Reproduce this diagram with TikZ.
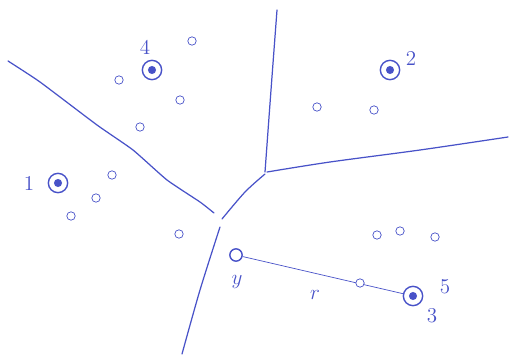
\documentclass[tikz,border=0pt]{standalone}
\usepackage{tikz}
\definecolor{ink}{RGB}{72,82,200}
\tikzset{
  site/.style={circle,draw=ink,thick,minimum size=11pt,inner sep=0pt,
    path picture={\fill[ink] (path picture bounding box.center) circle (2.3pt);}},
  pt/.style={circle,draw=ink,minimum size=4.8pt,inner sep=0pt},
  lab/.style={text=ink,font=\large},
  edge/.style={draw=ink,line width=0.7pt,line cap=round}
}
\begin{document}
\begin{tikzpicture}[x=0.02cm,y=-0.02cm]
    \useasboundingbox (0,0) rectangle (509,354);
    % cell borders
    \draw[edge] plot[smooth,tension=0.3] coordinates {(8,61) (40,82) (97,125) (133,150) (167,180) (200,202) (214,213)};
    \draw[edge] plot[smooth] coordinates {(277,10) (271,90) (265,172)};
    \draw[edge] plot[smooth] coordinates {(267,172) (330,162) (420,150) (508,137)};
    \draw[edge] plot[smooth] coordinates {(265,174) (245,192) (222,219)};
    \draw[edge] plot[smooth] coordinates {(220,227) (200,290) (182,354)};
    % sites
    \node[site] (s1) at (58,183) {};
    \node[site] (s2) at (390,70) {};
    \node[site] (s3) at (413,296) {};
    \node[site] (s4) at (152,70) {};
    \node[lab] at (29,183) {1};
    \node[lab] at (411,58) {2};
    \node[lab] at (432,316) {3};
    \node[lab] at (145,47) {4};
    \node[lab] at (445,287) {5};
    % query point
    \node[circle,draw=ink,thick,minimum size=7pt,inner sep=0pt] (y) at (236,255) {};
    \node[lab] at (237,282) {$y$};
    \draw[ink] (y) -- (s3);
    \node[lab] at (315,295) {$r$};
    % other points
    \node[pt] (p1) at (192,41) {};
    \node[pt] (p2) at (119,80) {};
    \node[pt] (p3) at (180,100) {};
    \node[pt] (p4) at (140,127) {};
    \node[pt] (p5) at (112,175) {};
    \node[pt] (p6) at (96,198) {};
    \node[pt] (p7) at (71,216) {};
    \node[pt] (p8) at (179,234) {};
    \node[pt] (p9) at (317,107) {};
    \node[pt] (p10) at (374,110) {};
    \node[pt] (p11) at (377,235) {};
    \node[pt] (p12) at (400,231) {};
    \node[pt] (p13) at (435,237) {};
    \node[pt,fill=white] (p14) at (360,283) {};
\end{tikzpicture}
\end{document}
